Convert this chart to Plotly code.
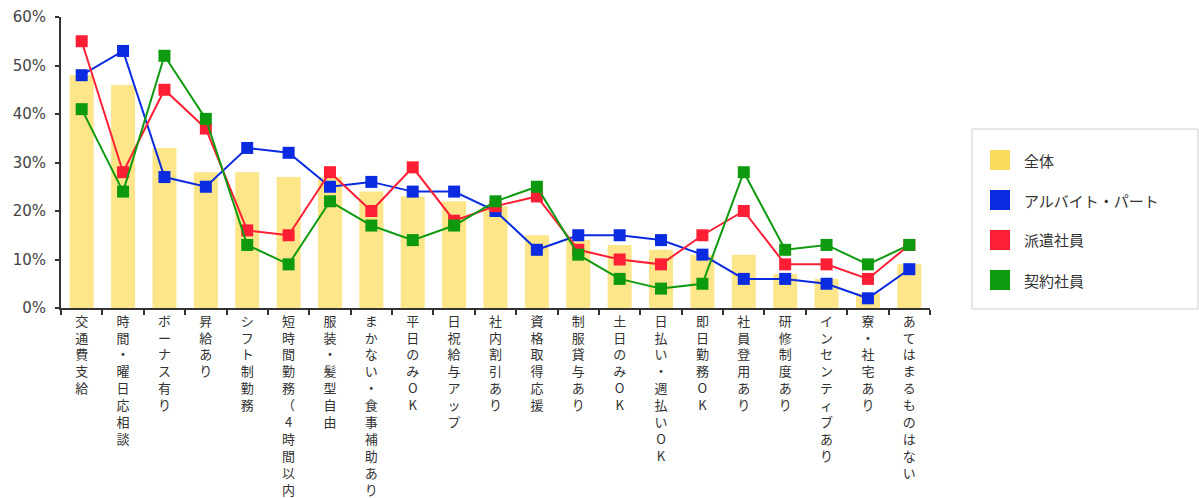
import plotly.graph_objects as go

# Survey categories (benefits / work conditions)
categories = [
    "交通費支給", "時間・曜日応相談", "ボーナス有り", "昇給あり", "シフト制勤務",
    "短時間勤務（4時間以内）", "服装・髪型自由", "まかない・食事補助あり", "平日のみOK",
    "日祝給与アップ", "社内割引あり", "資格取得応援", "制服貸与あり", "土日のみOK",
    "日払い・週払いOK", "即日勤務OK", "社員登用あり", "研修制度あり",
    "インセンティブあり", "寮・社宅あり", "あてはまるものはない",
]

# Percentages per group
total = [48, 46, 33, 28, 28, 27, 27, 24, 23, 22, 21, 15, 14, 13, 12, 11, 11, 7, 6, 3, 9]
part_time = [48, 53, 27, 25, 33, 32, 25, 26, 24, 24, 20, 12, 15, 15, 14, 11, 6, 6, 5, 2, 8]
dispatch = [55, 28, 45, 37, 16, 15, 28, 20, 29, 18, 21, 23, 12, 10, 9, 15, 20, 9, 9, 6, 13]
contract = [41, 24, 52, 39, 13, 9, 22, 17, 14, 17, 22, 25, 11, 6, 4, 5, 28, 12, 13, 9, 13]

series_names = ["全体", "アルバイト・パート", "派遣社員", "契約社員"]
bar_color = "#FDE58A"
swatch_colors = ["#F8DB5C", "#0A2BE0", "#FF1F35", "#0E9A0E"]

y_ticks = [0, 10, 20, 30, 40, 50, 60]
y_ticktext = [f"{v}%" for v in y_ticks]

FONT = "Noto Sans CJK JP"
TEXT = "#333333"

# Vertical labels: one character per line
stacked = ["<br>".join(list(c)) for c in categories]

fig = go.Figure()
fig.add_trace(go.Bar(
    x=categories, y=total, name=series_names[0],
    marker=dict(color=bar_color, line=dict(width=0)),
    width=0.58, showlegend=False,
))
for name, vals, col in zip(series_names[1:], [part_time, dispatch, contract], swatch_colors[1:]):
    fig.add_trace(go.Scatter(
        x=categories, y=vals, name=name, mode="lines+markers",
        line=dict(color=col, width=2),
        marker=dict(symbol="square", size=12, color=col),
        showlegend=False,
    ))

W, H = 1199, 498
ml, mr, mt, mb = 61, 269, 17, 190
pw, ph = W - ml - mr, H - mt - mb

fig.update_layout(
    width=W, height=H,
    margin=dict(l=ml, r=mr, t=mt, b=mb, pad=0, autoexpand=False),
    paper_bgcolor="white", plot_bgcolor="white",
    font=dict(family=FONT, color=TEXT),
    bargap=0.42,
)
fig.update_xaxes(
    type="category", tickvals=categories, ticktext=stacked, automargin=False,
    tickangle=0, tickson="boundaries", ticks="outside", ticklen=5,
    tickcolor="#333", tickwidth=1.5,
    showline=True, linecolor="#333", linewidth=2,
    showgrid=False, tickfont=dict(size=13, family=FONT, color=TEXT),
    range=[-0.5, len(categories) - 0.5],
)
fig.update_yaxes(
    range=[0, 60], tickvals=y_ticks, ticktext=y_ticktext, automargin=False,
    ticks="outside", ticklen=4, tickcolor="#333", tickwidth=1.5,
    showline=True, linecolor="#333", linewidth=2, showgrid=False, zeroline=False,
    tickfont=dict(size=15, family="DejaVu Sans", color="#444"), ticklabelstandoff=6,
)

# Legend panel on the right
def px_x(px):
    return (px - ml) / pw

def px_y(py):
    return (H - mb - py) / ph

shapes = [dict(type="rect", xref="paper", yref="paper",
               x0=px_x(972), x1=px_x(1198), y0=px_y(309), y1=px_y(129),
               line=dict(color="#cfcfcf", width=1), fillcolor="white", layer="below")]
annotations = []
for i, (name, col) in enumerate(zip(series_names, swatch_colors)):
    cy = 160 + 40 * i
    shapes.append(dict(type="rect", xref="paper", yref="paper",
                       x0=px_x(990), x1=px_x(1010), y0=px_y(cy + 10), y1=px_y(cy - 10),
                       line=dict(width=0), fillcolor=col))
    annotations.append(dict(xref="paper", yref="paper", x=px_x(1022), y=px_y(cy),
                            text=name, showarrow=False, xanchor="left", yanchor="middle",
                            font=dict(size=15, family=FONT, color=TEXT)))
fig.update_layout(shapes=shapes, annotations=annotations)

fig.write_html("out.html")
